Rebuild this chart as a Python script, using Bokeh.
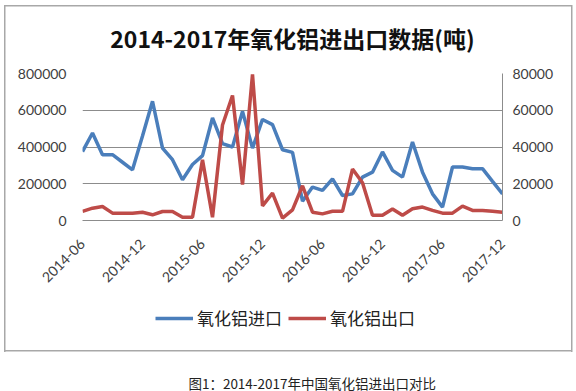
from bokeh.plotting import figure
from bokeh.models import (Range1d, LinearAxis, FixedTicker, BasicTickFormatter,
                          Legend, LegendItem, Label)
from bokeh.layouts import column
from bokeh.embed import file_html
from bokeh.resources import INLINE
import math

# ---- data ----
tick_positions = [0, 6, 12, 18, 24, 30, 36, 42]
tick_labels = ["2014-06", "2014-12", "2015-06", "2015-12",
               "2016-06", "2016-12", "2017-06", "2017-12"]
month_index = list(range(43))  # 2014-06 ... 2017-12

imports = [375000, 476000, 358000, 358000, 317000, 276000, 460000, 649000,
           394000, 331000, 222000, 305000, 353000, 558000, 418000, 400000,
           594000, 394000, 550000, 522000, 385000, 371000, 105000, 182000,
           164000, 227000, 136000, 145000, 236000, 263000, 373000, 273000,
           236000, 427000, 263000, 145000, 73000, 291000, 291000, 282000,
           282000, 213000, 145000]
exports = [5000, 6700, 7600, 4000, 4000, 4000, 4500, 3100,
           4900, 4900, 1800, 1800, 33000, 1800, 52000, 68000,
           19500, 79500, 8000, 14900, 1300, 5800, 18900, 4500,
           3600, 5000, 5000, 28000, 20500, 2900, 2900, 6300,
           2900, 6400, 7300, 5500, 4000, 4000, 7800, 5500,
           5500, 5000, 4500]

left_ticks = [0, 200000, 400000, 600000, 800000]
right_ticks = [0, 20000, 40000, 60000, 80000]

title_text = "2014-2017年氧化铝进出口数据(吨)"
caption_text = "图1：2014-2017年中国氧化铝进出口对比"
name_import = "氧化铝进口"
name_export = "氧化铝出口"

BLUE = "#4A7EBB"
RED = "#BE4B48"
GRID = "#8C8C8C"
TXT = "#404040"
BOX = "#A8A8A8"

TOP_H = 295
BOT_H = 96
FRAME_LEFT = 82


def box_lines(sizes, positions):
    return {
        "background-color": "white",
        "background-image": ", ".join([f"linear-gradient({BOX}, {BOX})"] * len(sizes)),
        "background-size": ", ".join(sizes),
        "background-position": ", ".join(positions),
        "background-repeat": "no-repeat",
    }


# ---------------- main chart ----------------
p = figure(width=576, height=TOP_H, output_backend="svg", toolbar_location=None,
           x_range=Range1d(0, 42), y_range=Range1d(0, 800000),
           min_border_left=FRAME_LEFT, min_border_right=74,
           min_border_top=73, min_border_bottom=TOP_H - 220)
p.outline_line_color = None
p.background_fill_color = "white"
p.border_fill_color = None
p.styles = box_lines(
    ["568px 1.5px", f"1.5px {TOP_H - 5}px", f"1.5px {TOP_H - 5}px"],
    ["4px 5px", "4px 5px", "571px 5px"])

p.title.text = title_text
p.title.align = "center"
p.title.text_font = "Noto Sans CJK SC"
p.title.text_font_style = "bold"
p.title.text_font_size = "23px"
p.title.text_color = "#111111"
p.title.standoff = 37

p.extra_y_ranges = {"exp": Range1d(0, 80000)}

yax = p.yaxis[0]
yax.ticker = FixedTicker(ticks=left_ticks)
yax.formatter = BasicTickFormatter(use_scientific=False)
yax.axis_line_color = None
yax.major_tick_line_color = None
yax.minor_tick_line_color = None
yax.major_tick_out = 0
yax.major_tick_in = 0
yax.major_label_standoff = 16
yax.major_label_text_font = "Lato"
yax.major_label_text_font_size = "14px"
yax.major_label_text_color = TXT

rax = LinearAxis(y_range_name="exp", ticker=FixedTicker(ticks=right_ticks),
                 formatter=BasicTickFormatter(use_scientific=False))
rax.axis_line_color = GRID
rax.major_tick_line_color = None
rax.minor_tick_line_color = None
rax.major_tick_out = 0
rax.major_tick_in = 0
rax.major_label_standoff = 10
rax.major_label_text_font = "Lato"
rax.major_label_text_font_size = "14px"
rax.major_label_text_color = TXT
p.add_layout(rax, "right")

xax = p.xaxis[0]
xax.ticker = FixedTicker(ticks=tick_positions)
xax.major_label_overrides = {t: l for t, l in zip(tick_positions, tick_labels)}
xax.major_label_orientation = math.pi / 4
xax.axis_line_color = GRID
xax.major_tick_line_color = None
xax.minor_tick_line_color = None
xax.major_tick_out = 0
xax.major_tick_in = 0
xax.major_label_standoff = 21
xax.major_label_text_font = "Lato"
xax.major_label_text_font_size = "14px"
xax.major_label_text_color = TXT

p.xgrid.grid_line_color = None
p.ygrid.ticker = FixedTicker(ticks=left_ticks)
p.ygrid.grid_line_color = GRID
p.ygrid.grid_line_width = 1

p.line(month_index, imports, line_color=BLUE, line_width=3.5)
p.line(month_index, exports, line_color=RED, line_width=3.5, y_range_name="exp")

# ---------------- legend + caption strip ----------------
# (its frame is aligned with the chart frame by the column layout)
lg = figure(width=576, height=BOT_H, output_backend="svg", toolbar_location=None,
            x_range=Range1d(0, 1), y_range=Range1d(-2, -1), min_border=0,
            x_axis_location=None, y_axis_location=None)
lg.grid.visible = False
lg.outline_line_color = None
lg.background_fill_color = None
lg.border_fill_color = None
lg.styles = box_lines(
    ["568px 1.5px", "1.5px 57px", "1.5px 57px"],
    ["4px 55px", "4px 0px", "571px 0px"])

# series repeated here only to give the legend its swatches (outside this view)
sw_imp = lg.line(month_index, imports, line_color=BLUE, line_width=3.5)
sw_exp = lg.line(month_index, exports, line_color=RED, line_width=3.5)
legend = Legend(items=[LegendItem(label=name_import, renderers=[sw_imp]),
                       LegendItem(label=name_export, renderers=[sw_exp])],
                location=(155 - FRAME_LEFT, BOT_H - 35), orientation="horizontal",
                padding=0, margin=0, spacing=6,
                glyph_width=38, glyph_height=20, label_height=20,
                label_standoff=4, border_line_color=None,
                background_fill_alpha=0,
                label_text_font="Noto Sans CJK SC", label_text_font_size="17px",
                label_text_color="#222222")
lg.add_layout(legend, "center")

lg.add_layout(Label(x=311.7 - FRAME_LEFT, y=9, x_units="screen", y_units="screen",
                    text=caption_text, text_align="center", text_baseline="middle",
                    text_font="Noto Sans CJK SC",
                    text_font_size="13.5px", text_color="#222222"))

layout = column(p, lg, spacing=0)
open("out.html", "w").write(file_html(layout, INLINE))
